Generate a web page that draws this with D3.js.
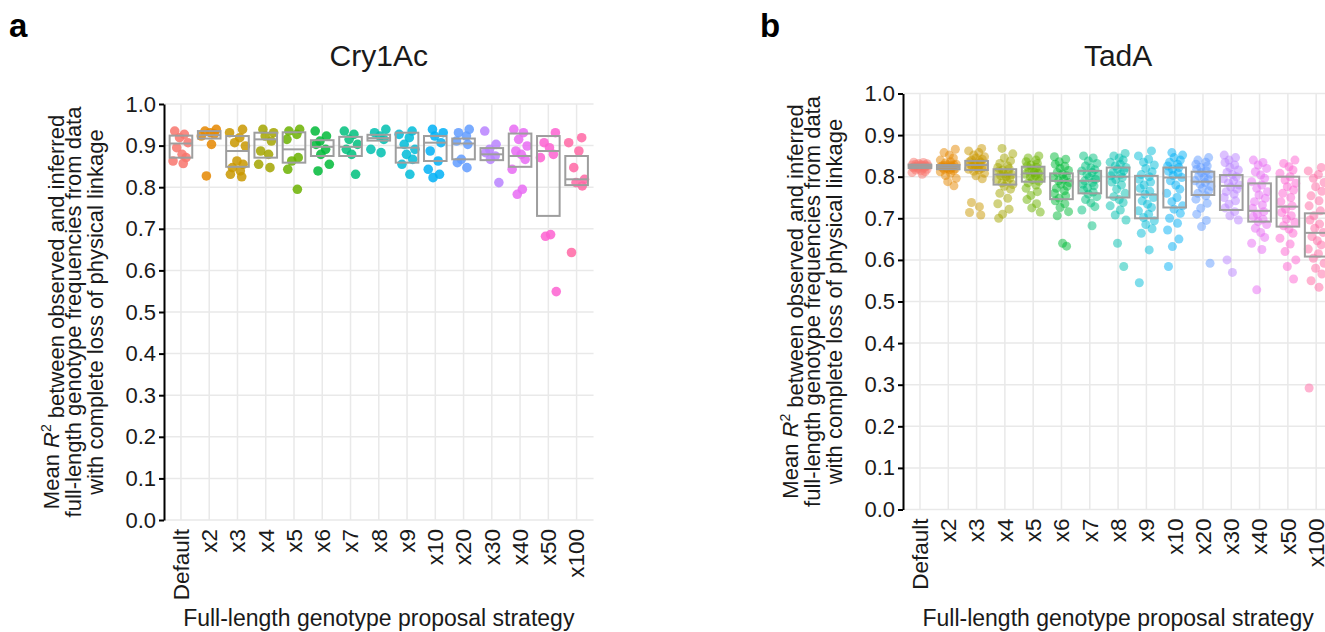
<!DOCTYPE html>
<html>
<head>
<meta charset="utf-8">
<script src="https://cdn.jsdelivr.net/npm/d3@7"></script>
<style>
  body { margin: 0; background: #fff; }
  svg { display: block; font-family: "Liberation Sans", Arial, sans-serif; }
</style>
</head>
<body>
<div id="chart"></div>
<script>
// categories (proposal strategies)
var categories = ["Default", "x2", "x3", "x4", "x5", "x6", "x7", "x8", "x9", "x10", "x20", "x30", "x40", "x50", "x100"];
var yTicks = [0, 0.1, 0.2, 0.3, 0.4, 0.5, 0.6, 0.7, 0.8, 0.9, 1.0];

// Panel a: Cry1Ac, one list of R^2 values per strategy
var cry1acPoints = [
  [0.935, 0.927, 0.919, 0.907, 0.895, 0.879, 0.871, 0.863, 0.857],
  [0.939, 0.935, 0.931, 0.928, 0.923, 0.903, 0.827],
  [0.939, 0.931, 0.919, 0.907, 0.899, 0.863, 0.855, 0.847, 0.839, 0.831, 0.825],
  [0.939, 0.931, 0.923, 0.911, 0.887, 0.879, 0.855, 0.847],
  [0.939, 0.935, 0.927, 0.915, 0.871, 0.863, 0.843, 0.795],
  [0.935, 0.923, 0.911, 0.903, 0.891, 0.879, 0.855, 0.839],
  [0.935, 0.927, 0.915, 0.903, 0.891, 0.879, 0.831],
  [0.939, 0.931, 0.923, 0.915, 0.891, 0.883],
  [0.935, 0.927, 0.919, 0.903, 0.891, 0.879, 0.867, 0.855, 0.831],
  [0.939, 0.931, 0.923, 0.907, 0.887, 0.863, 0.843, 0.831, 0.823],
  [0.939, 0.931, 0.923, 0.911, 0.903, 0.867, 0.859, 0.847],
  [0.935, 0.903, 0.891, 0.883, 0.875, 0.867, 0.811],
  [0.939, 0.931, 0.915, 0.899, 0.887, 0.879, 0.867, 0.843, 0.795, 0.783],
  [0.931, 0.907, 0.895, 0.879, 0.871, 0.686, 0.682, 0.549],
  [0.919, 0.907, 0.887, 0.847, 0.819, 0.811, 0.803, 0.643]
];
var cry1acQ1  = [0.871, 0.917, 0.849, 0.871, 0.859, 0.875, 0.875, 0.912, 0.859, 0.863, 0.867, 0.865, 0.849, 0.731, 0.805];
var cry1acMed = [0.905, 0.925, 0.887, 0.915, 0.891, 0.897, 0.897, 0.918, 0.895, 0.907, 0.905, 0.879, 0.875, 0.887, 0.819];
var cry1acQ3  = [0.924, 0.935, 0.923, 0.931, 0.932, 0.913, 0.921, 0.926, 0.931, 0.923, 0.917, 0.894, 0.929, 0.923, 0.875];

// Panel b: TadA
var tadaPoints = [
  [0.835, 0.834, 0.832, 0.831, 0.830, 0.829, 0.828, 0.828, 0.827, 0.826, 0.826, 0.825, 0.825, 0.824, 0.824, 0.823, 0.822, 0.822, 0.821, 0.820, 0.819, 0.818, 0.816, 0.814, 0.812, 0.810, 0.806],
  [0.866, 0.858, 0.852, 0.845, 0.840, 0.836, 0.833, 0.830, 0.829, 0.828, 0.827, 0.826, 0.825, 0.824, 0.823, 0.822, 0.821, 0.820, 0.819, 0.818, 0.817, 0.815, 0.812, 0.808, 0.803, 0.796, 0.788, 0.778],
  [0.868, 0.862, 0.858, 0.852, 0.848, 0.845, 0.842, 0.840, 0.838, 0.836, 0.834, 0.832, 0.830, 0.829, 0.828, 0.826, 0.824, 0.822, 0.820, 0.818, 0.816, 0.813, 0.808, 0.802, 0.795, 0.738, 0.728, 0.714, 0.708],
  [0.868, 0.855, 0.845, 0.838, 0.832, 0.826, 0.822, 0.819, 0.816, 0.813, 0.810, 0.807, 0.805, 0.803, 0.800, 0.797, 0.793, 0.789, 0.785, 0.781, 0.777, 0.770, 0.760, 0.748, 0.735, 0.722, 0.710, 0.700],
  [0.850, 0.845, 0.840, 0.836, 0.832, 0.828, 0.825, 0.822, 0.819, 0.816, 0.813, 0.810, 0.808, 0.806, 0.803, 0.800, 0.797, 0.793, 0.789, 0.785, 0.780, 0.772, 0.764, 0.755, 0.745, 0.735, 0.725, 0.715],
  [0.848, 0.842, 0.836, 0.830, 0.825, 0.820, 0.815, 0.810, 0.806, 0.802, 0.798, 0.794, 0.790, 0.786, 0.782, 0.777, 0.772, 0.766, 0.760, 0.754, 0.748, 0.742, 0.735, 0.726, 0.716, 0.706, 0.640, 0.633],
  [0.850, 0.845, 0.838, 0.832, 0.826, 0.821, 0.817, 0.814, 0.810, 0.806, 0.802, 0.798, 0.794, 0.790, 0.786, 0.782, 0.778, 0.773, 0.768, 0.763, 0.758, 0.752, 0.745, 0.737, 0.728, 0.720, 0.682],
  [0.856, 0.850, 0.845, 0.840, 0.835, 0.830, 0.826, 0.822, 0.818, 0.814, 0.810, 0.806, 0.802, 0.798, 0.793, 0.787, 0.780, 0.770, 0.760, 0.752, 0.745, 0.738, 0.730, 0.720, 0.708, 0.696, 0.640, 0.584],
  [0.862, 0.850, 0.842, 0.835, 0.828, 0.820, 0.812, 0.805, 0.800, 0.794, 0.787, 0.780, 0.772, 0.765, 0.758, 0.750, 0.742, 0.734, 0.726, 0.718, 0.710, 0.702, 0.694, 0.685, 0.675, 0.664, 0.624, 0.545],
  [0.858, 0.852, 0.846, 0.840, 0.835, 0.830, 0.826, 0.822, 0.818, 0.813, 0.808, 0.803, 0.798, 0.790, 0.780, 0.770, 0.760, 0.750, 0.740, 0.730, 0.722, 0.712, 0.700, 0.688, 0.672, 0.650, 0.632, 0.584],
  [0.846, 0.840, 0.835, 0.830, 0.826, 0.822, 0.818, 0.814, 0.810, 0.806, 0.802, 0.798, 0.794, 0.790, 0.786, 0.782, 0.777, 0.772, 0.766, 0.760, 0.754, 0.746, 0.736, 0.724, 0.710, 0.695, 0.680, 0.592],
  [0.852, 0.846, 0.840, 0.834, 0.828, 0.822, 0.816, 0.810, 0.805, 0.800, 0.795, 0.790, 0.785, 0.780, 0.775, 0.770, 0.764, 0.758, 0.750, 0.742, 0.734, 0.725, 0.716, 0.706, 0.696, 0.600, 0.570],
  [0.840, 0.834, 0.828, 0.820, 0.812, 0.804, 0.796, 0.788, 0.780, 0.772, 0.764, 0.756, 0.748, 0.740, 0.732, 0.724, 0.716, 0.710, 0.704, 0.698, 0.692, 0.685, 0.676, 0.666, 0.654, 0.640, 0.625, 0.528],
  [0.840, 0.832, 0.824, 0.816, 0.808, 0.800, 0.792, 0.784, 0.776, 0.768, 0.760, 0.750, 0.740, 0.730, 0.722, 0.714, 0.706, 0.698, 0.690, 0.682, 0.674, 0.664, 0.652, 0.638, 0.620, 0.600, 0.584, 0.554],
  [0.822, 0.814, 0.805, 0.796, 0.786, 0.776, 0.765, 0.754, 0.742, 0.730, 0.718, 0.706, 0.696, 0.686, 0.676, 0.666, 0.656, 0.646, 0.636, 0.626, 0.615, 0.604, 0.592, 0.580, 0.566, 0.550, 0.534, 0.292]
];
var tadaQ1  = [0.821, 0.818, 0.816, 0.781, 0.788, 0.746, 0.760, 0.750, 0.700, 0.726, 0.756, 0.720, 0.692, 0.680, 0.608];
var tadaMed = [0.825, 0.823, 0.828, 0.805, 0.808, 0.790, 0.790, 0.800, 0.757, 0.798, 0.788, 0.778, 0.718, 0.728, 0.665];
var tadaQ3  = [0.829, 0.828, 0.838, 0.818, 0.824, 0.808, 0.814, 0.822, 0.802, 0.822, 0.812, 0.804, 0.784, 0.800, 0.712];

// ggplot default hue palette for 15 groups
var palette = ["#F8766D", "#E58700", "#C99800", "#A3A500", "#6BB100", "#00BA38", "#00BF7D", "#00C0AF",
               "#00BCD8", "#00B0F6", "#619CFF", "#B983FF", "#E76BF3", "#FD61D1", "#FF67A4"];
// fixed horizontal jitter pattern (fraction of a category step)
var jitter = [-0.22, 0.12, -0.05, 0.25, -0.15, 0.04, 0.18, -0.28, 0.08, -0.1, 0.28, -0.02, 0.2, -0.18, 0.1, -0.25, 0.15, -0.08];

var svg = d3.select('#chart').append('svg')
    .attr('width', 1325)
    .attr('height', 632);

function drawPanel(opt) {
  var g = svg.append('g');

  var x = d3.scalePoint()
      .domain(categories)
      .range([opt.left, opt.left + 15.2 * opt.step])
      .padding(0.6);
  var y = d3.scaleLinear()
      .domain([0, 1])
      .range([opt.bottom, opt.top]);
  var right = opt.left + 15.2 * opt.step;

  // grid
  g.selectAll('.hgrid').data(yTicks).enter().append('line')
      .attr('x1', opt.left).attr('x2', right)
      .attr('y1', function(d) { return y(d); })
      .attr('y2', function(d) { return y(d); })
      .attr('stroke', '#e9e9e9').attr('stroke-width', 1.5);
  g.selectAll('.vgrid').data(categories).enter().append('line')
      .attr('x1', function(d) { return x(d); })
      .attr('x2', function(d) { return x(d); })
      .attr('y1', y(1)).attr('y2', y(0))
      .attr('stroke', '#e9e9e9').attr('stroke-width', 1.5);

  // jittered points
  categories.forEach(function(c, i) {
    g.selectAll('.pt' + i).data(opt.points[i]).enter().append('circle')
        .attr('cx', function(d, j) { return x(c) + jitter[(j + i * 3) % jitter.length] * opt.step; })
        .attr('cy', function(d) { return y(d); })
        .attr('r', opt.radius)
        .attr('fill', palette[i])
        .attr('fill-opacity', opt.alpha);
  });

  // boxes (no whiskers)
  var bw = 0.8 * opt.step;
  categories.forEach(function(c, i) {
    g.append('rect')
        .attr('x', x(c) - bw / 2)
        .attr('y', y(opt.q3[i]))
        .attr('width', bw)
        .attr('height', Math.max(y(opt.q1[i]) - y(opt.q3[i]), 0.5))
        .attr('fill', 'none')
        .attr('stroke', '#9e9e9e')
        .attr('stroke-width', 2);
    g.append('line')
        .attr('x1', x(c) - bw / 2).attr('x2', x(c) + bw / 2)
        .attr('y1', y(opt.med[i])).attr('y2', y(opt.med[i]))
        .attr('stroke', '#9e9e9e')
        .attr('stroke-width', 2);
  });

  // y axis
  var yAxis = g.append('g')
      .attr('transform', 'translate(' + opt.left + ',0)')
      .call(d3.axisLeft(y).tickValues(yTicks).tickFormat(d3.format('.1f')).tickSize(5).tickSizeOuter(0).tickPadding(3));
  yAxis.select('.domain').attr('stroke', '#000').attr('stroke-width', 2);
  yAxis.selectAll('.tick line').attr('stroke', '#000').attr('stroke-width', 2);
  yAxis.selectAll('.tick text').attr('fill', '#1a1a1a')
      .style('font-size', '22px').style('font-family', '"Liberation Sans", Arial, sans-serif');

  // x tick labels, rotated
  g.selectAll('.xlab').data(categories).enter().append('text')
      .attr('transform', function(d) { return 'translate(' + x(d) + ',' + (opt.bottom + 9) + ') rotate(-90)'; })
      .attr('dy', '0.35em')
      .style('text-anchor', 'end')
      .style('font-size', '22.5px')
      .attr('fill', '#1a1a1a')
      .text(function(d) { return d; });

  // y axis title, three lines
  var midY = (opt.top + opt.bottom) / 2;
  var lines = [null,
    'full-length genotype frequencies from data',
    'with complete loss of physical linkage'];
  var t0 = g.append('text')
      .attr('transform', 'translate(' + (opt.left - 105) + ',' + midY + ') rotate(-90)')
      .style('text-anchor', 'middle').style('font-size', '22px').attr('fill', '#1a1a1a');
  t0.append('tspan').text('Mean ');
  t0.append('tspan').style('font-style', 'italic').text('R');
  t0.append('tspan').attr('dy', '-0.6em').style('font-size', '14px').text('2');
  t0.append('tspan').attr('dy', '0.6em').text(' between observed and inferred');
  [1, 2].forEach(function(k) {
    g.append('text')
        .attr('transform', 'translate(' + (opt.left - 105 + k * 22) + ',' + midY + ') rotate(-90)')
        .style('text-anchor', 'middle').style('font-size', '22px').attr('fill', '#1a1a1a')
        .text(lines[k]);
  });

  // x axis title
  g.append('text')
      .attr('x', (opt.left + right) / 2)
      .attr('y', 626)
      .style('text-anchor', 'middle').style('font-size', '23px').attr('fill', '#1a1a1a')
      .text('Full-length genotype proposal strategy');

  // plot title
  g.append('text')
      .attr('x', (opt.left + right) / 2)
      .attr('y', 66)
      .style('text-anchor', 'middle').style('font-size', '30px').attr('fill', '#1a1a1a')
      .text(opt.title);

  // panel letter
  g.append('text')
      .attr('x', opt.letterX)
      .attr('y', 37)
      .style('font-size', '33px').style('font-weight', 'bold').attr('fill', '#000')
      .text(opt.letter);
}

drawPanel({ left: 164, step: 28.26, top: 104, bottom: 520, title: 'Cry1Ac', letter: 'a', letterX: 9,
            points: cry1acPoints, q1: cry1acQ1, med: cry1acMed, q3: cry1acQ3, radius: 4.8, alpha: 0.85 });
drawPanel({ left: 903, step: 28.3, top: 93.5, bottom: 509.5, title: 'TadA', letter: 'b', letterX: 760,
            points: tadaPoints, q1: tadaQ1, med: tadaMed, q3: tadaQ3, radius: 4.5, alpha: 0.5 });
</script>
</body>
</html>
